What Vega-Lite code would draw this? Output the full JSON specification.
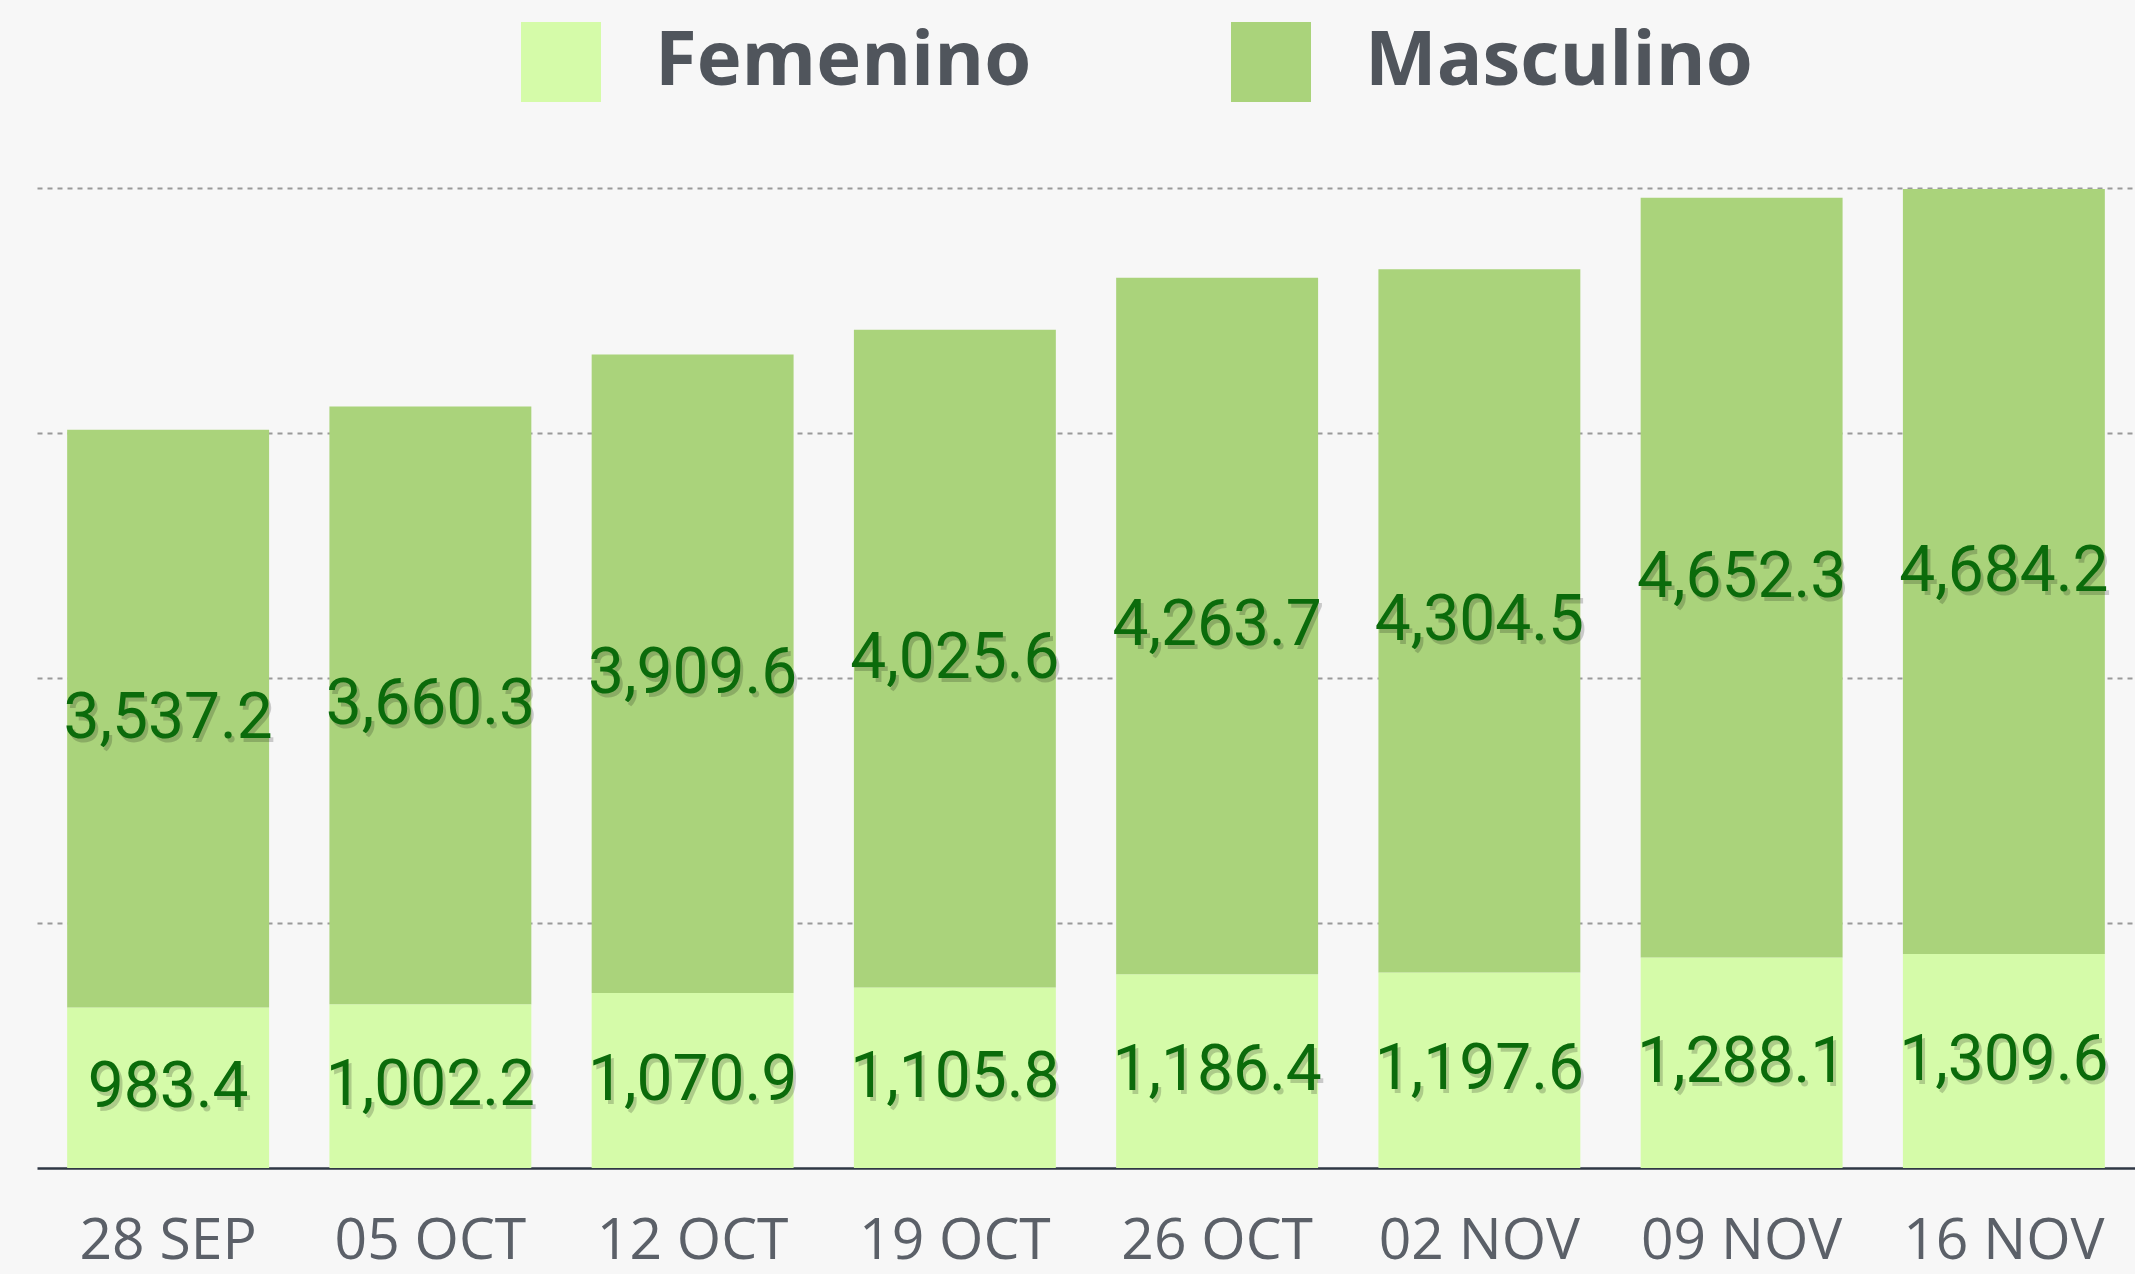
{
  "$schema": "https://vega.github.io/schema/vega-lite/v6.json",
  "width": 2098,
  "height": 980,
  "autosize": {"type": "none"},
  "padding": {"left": 37, "top": 188, "right": 0, "bottom": 106},
  "background": "#f7f7f7",
  "data": {
    "values": [
      {"semana": "28 SEP", "sexo": "Femenino", "valor": 983.4},
      {"semana": "28 SEP", "sexo": "Masculino", "valor": 3537.2},
      {"semana": "05 OCT", "sexo": "Femenino", "valor": 1002.2},
      {"semana": "05 OCT", "sexo": "Masculino", "valor": 3660.3},
      {"semana": "12 OCT", "sexo": "Femenino", "valor": 1070.9},
      {"semana": "12 OCT", "sexo": "Masculino", "valor": 3909.6},
      {"semana": "19 OCT", "sexo": "Femenino", "valor": 1105.8},
      {"semana": "19 OCT", "sexo": "Masculino", "valor": 4025.6},
      {"semana": "26 OCT", "sexo": "Femenino", "valor": 1186.4},
      {"semana": "26 OCT", "sexo": "Masculino", "valor": 4263.7},
      {"semana": "02 NOV", "sexo": "Femenino", "valor": 1197.6},
      {"semana": "02 NOV", "sexo": "Masculino", "valor": 4304.5},
      {"semana": "09 NOV", "sexo": "Femenino", "valor": 1288.1},
      {"semana": "09 NOV", "sexo": "Masculino", "valor": 4652.3},
      {"semana": "16 NOV", "sexo": "Femenino", "valor": 1309.6},
      {"semana": "16 NOV", "sexo": "Masculino", "valor": 4684.2}
    ]
  },
  "encoding": {
    "x": {
      "field": "semana",
      "type": "nominal",
      "sort": null,
      "scale": {"paddingInner": 0.23, "paddingOuter": 0.115},
      "axis": {
        "title": null,
        "ticks": false,
        "grid": false,
        "labelAngle": 0,
        "labelLimit": 0,
        "domainColor": "#2f3744",
        "domainWidth": 2.5,
        "labelFont": "Open Sans",
        "labelFontSize": 57,
        "labelColor": "#5b6068",
        "labelPadding": 45
      }
    }
  },
  "layer": [
    {
      "mark": {"type": "bar"},
      "encoding": {
        "y": {
          "field": "valor",
          "type": "quantitative",
          "stack": "zero",
          "scale": {"domain": [0, 6000], "nice": false},
          "axis": {
            "title": null,
            "labels": false,
            "ticks": false,
            "domain": false,
            "values": [1500, 3000, 4500, 6000],
            "gridDash": [5, 5],
            "gridColor": "#9a9a9a",
            "gridWidth": 2
          }
        },
        "color": {
          "field": "sexo",
          "type": "nominal",
          "scale": {"domain": ["Femenino", "Masculino"], "range": ["#d5fba9", "#aad37b"]},
          "legend": {
            "orient": "none",
            "legendX": 484,
            "legendY": -166,
            "direction": "horizontal",
            "title": null,
            "symbolType": "square",
            "symbolSize": 6400,
            "symbolStrokeWidth": 0,
            "symbolOpacity": 1,
            "labelFont": "Open Sans",
            "labelFontSize": 76,
            "labelFontWeight": "bold",
            "labelColor": "#50555c",
            "labelOffset": 54,
            "columnPadding": 199,
            "padding": 0,
            "labelLimit": 0
          }
        },
        "order": {"field": "sexo", "sort": "ascending"}
      }
    },
    {
      "mark": {"type": "text", "font": "Roboto", "fontSize": 64, "color": "#000000", "opacity": 0.18, "dx": 3, "dy": 4, "baseline": "middle"},
      "encoding": {
        "y": {"field": "valor", "type": "quantitative", "stack": "zero", "bandPosition": 0.5},
        "detail": {"field": "sexo"},
        "order": {"field": "sexo", "sort": "ascending"},
        "text": {"field": "valor", "type": "quantitative", "format": ",.1f"}
      }
    },
    {
      "mark": {"type": "text", "font": "Roboto", "fontSize": 64, "color": "#0b6b0b", "baseline": "middle"},
      "encoding": {
        "y": {"field": "valor", "type": "quantitative", "stack": "zero", "bandPosition": 0.5},
        "detail": {"field": "sexo"},
        "order": {"field": "sexo", "sort": "ascending"},
        "text": {"field": "valor", "type": "quantitative", "format": ",.1f"}
      }
    }
  ],
  "config": {"view": {"stroke": null}}
}
